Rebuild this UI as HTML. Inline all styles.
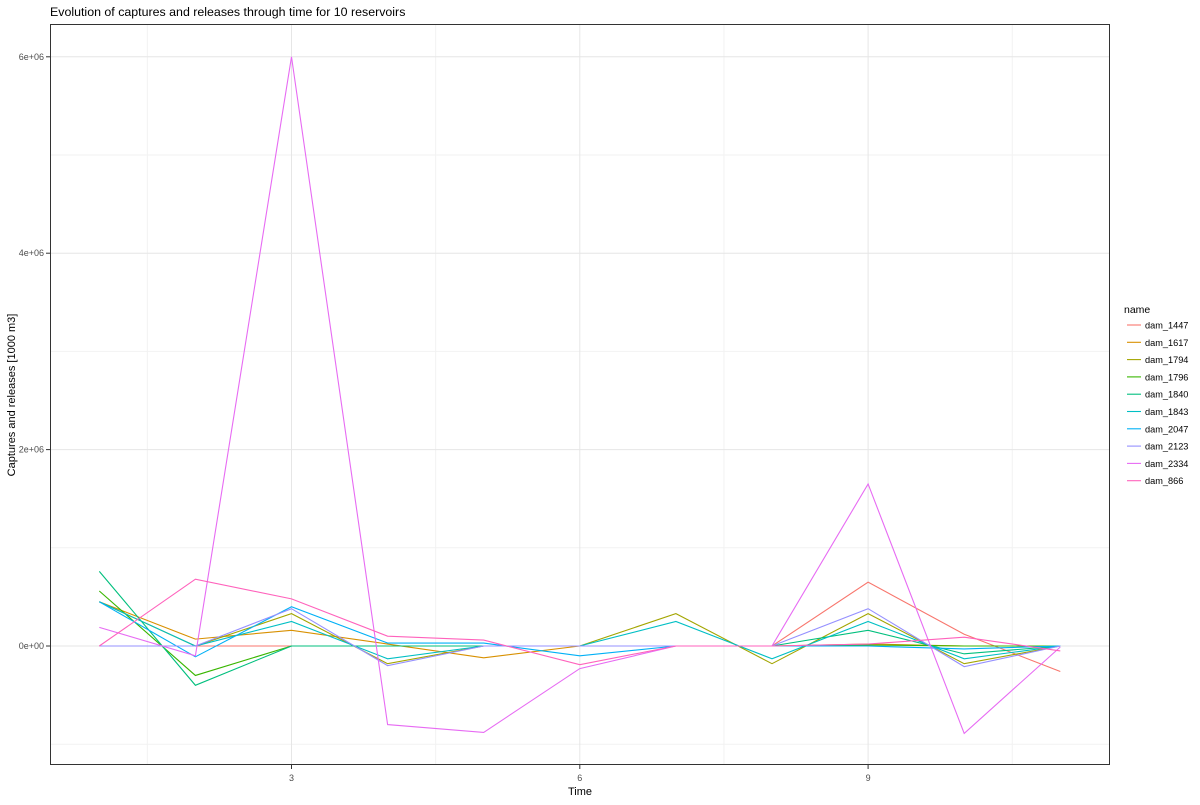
<!DOCTYPE html>
<html><head><meta charset="utf-8"><style>
body{margin:0;background:#fff;font-family:"Liberation Sans",Arial,sans-serif}
svg text{font-family:"Liberation Sans",Arial,sans-serif}
</style></head><body>
<svg id="chart" width="1200" height="800" xmlns="http://www.w3.org/2000/svg">
<rect width="1200" height="800" fill="#fff"/>
<text x="50" y="16" font-size="12.4" fill="#000">Evolution of captures and releases through time for 10 reservoirs</text>
<g id="grid"></g>
<g id="lines"></g>
<rect x="50.5" y="24.5" width="1059" height="740" fill="none" stroke="#333" stroke-width="1"/>
<g id="axes"></g>
<text x="580" y="795" font-size="11" text-anchor="middle">Time</text>
<text transform="translate(15,395) rotate(-90)" font-size="11" text-anchor="middle">Captures and releases [1000 m3]</text>
<g id="legend"></g>
</svg>
<script>
const times=[1,2,3,4,5,6,7,8,9,10,11];
const names=["dam_1447","dam_1617","dam_1794","dam_1796","dam_1840","dam_1843","dam_2047","dam_2123","dam_2334","dam_866"];
const colors=["#F8766D","#D89000","#A3A500","#39B600","#00BF7D","#00BFC4","#00B0F6","#9590FF","#E76BF3","#FF62BC"];
const s1447=[0,0,0,0,0,0,0,0,0.65,0.12,-0.26];
const s1617=[0.45,0.07,0.16,0.02,-0.12,0,0,0,0.02,0,0];
const s1794=[0.45,0,0.33,-0.18,0,0,0.33,-0.18,0.33,-0.18,0];
const s1796=[0.56,-0.30,0,0,0,0,0,0,0.01,0,0];
const s1840=[0.76,-0.40,0,0,0,0,0,0,0.16,-0.08,0];
const s1843=[0.45,0,0.25,-0.13,0,0,0.25,-0.13,0.25,-0.13,0];
const s2047=[0.45,-0.11,0.40,0.03,0.03,-0.10,0,0,0,-0.03,0];
const s2123=[0,0,0.38,-0.20,0,0,0,0,0.38,-0.21,0];
const s2334=[0.19,-0.10,6.0,-0.80,-0.88,-0.23,0,0,1.65,-0.89,-0.01];
const s866=[0,0.68,0.48,0.10,0.06,-0.19,0,0,0.02,0.09,-0.05];
const series=[s1447,s1617,s1794,s1796,s1840,s1843,s2047,s2123,s2334,s866];
const yTicks=[0,2,4,6];
const yTickLabels=["0e+00","2e+06","4e+06","6e+06"];
const xTicks=[3,6,9];
const xTickLabels=["3","6","9"];
const X=t=>99.3+(t-1)*96.1;
const Y=v=>646-v*98.2;
const NS="http://www.w3.org/2000/svg";
function mk(tag,attrs,parent){const e=document.createElementNS(NS,tag);for(const k in attrs)e.setAttribute(k,attrs[k]);parent.appendChild(e);return e;}
const grid=document.getElementById('grid');
[-1,1,3,5].forEach(v=>{const l=mk('line',{x1:50,x2:1110,y1:Y(v),y2:Y(v),stroke:'#F2F2F2','stroke-width':1},grid);

});
[1.5,4.5,7.5,10.5].forEach(t=>{const l=mk('line',{x1:X(t),x2:X(t),y1:24,y2:765,stroke:'#F2F2F2','stroke-width':1},grid);

});
yTicks.forEach(v=>{const l=mk('line',{x1:50,x2:1110,y1:Y(v),y2:Y(v),stroke:'#E6E6E6','stroke-width':1},grid);

});
xTicks.forEach(t=>{const l=mk('line',{x1:X(t),x2:X(t),y1:24,y2:765,stroke:'#E6E6E6','stroke-width':1},grid);

});
const axes=document.getElementById('axes');
yTicks.forEach((v,i)=>{mk('line',{x1:46,x2:50,y1:Y(v),y2:Y(v),stroke:'#333'},axes);
const t=mk('text',{x:44,y:Y(v)+3,'font-size':9,'text-anchor':'end',fill:'#4D4D4D'},axes);t.textContent=yTickLabels[i];

});
xTicks.forEach((v,i)=>{mk('line',{x1:X(v),x2:X(v),y1:765,y2:769,stroke:'#333'},axes);
const t=mk('text',{x:X(v),y:781,'font-size':9,'text-anchor':'middle',fill:'#4D4D4D'},axes);t.textContent=xTickLabels[i];

});
const lines=document.getElementById('lines');
series.forEach((s,i)=>{const p=mk('polyline',{points:s.map((v,j)=>X(times[j])+','+Y(v)).join(' '),fill:'none',stroke:colors[i],'stroke-width':1.1},lines);

});
const lg=document.getElementById('legend');
const tt=mk('text',{x:1124,y:313,'font-size':10.5},lg);tt.textContent='name';


names.forEach((n,i)=>{const y=325+i*17.3;
const g=mk('g',{},lg);


mk('line',{x1:1127,x2:1141,y1:y,y2:y,stroke:colors[i],'stroke-width':1.1},g);
const t=mk('text',{x:1145,y:y+3.5,'font-size':9.2},g);t.textContent=n;});
</script>
</body></html>
